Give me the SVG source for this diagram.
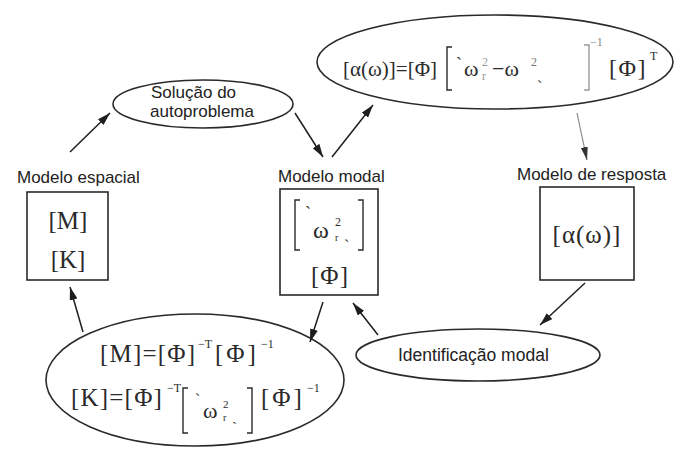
<svg xmlns="http://www.w3.org/2000/svg" width="675" height="450" viewBox="0 0 675 450">
<defs>
<marker id="ah" markerUnits="userSpaceOnUse" markerWidth="14" markerHeight="8" refX="13" refY="4" orient="auto">
<path d="M0,0 L13,4 L0,8 Z" fill="#1e1e1e"/>
</marker>
<marker id="ahg" markerUnits="userSpaceOnUse" markerWidth="14" markerHeight="8" refX="13" refY="4" orient="auto">
<path d="M0,0.5 L13,4 L0,7.5 Z" fill="#333"/>
</marker>
<style>
.sh{fill:none;stroke:#2a2a2a;stroke-width:1.6}
.bx{fill:none;stroke:#2a2a2a;stroke-width:1.6}
.lab{font-family:"Liberation Sans",Arial,sans-serif;font-size:17px;fill:#222}
.m{font-family:"Liberation Serif","Times New Roman",serif;font-size:22px;fill:#2a2a2a}
.sup{font-family:"Liberation Serif","Times New Roman",serif;font-size:12px;fill:#2a2a2a}
.br{fill:none;stroke:#2a2a2a;stroke-width:1.4}
.c{fill:none;stroke:#1e1e1e;stroke-width:1.5;marker-end:url(#ah)}
.cg{fill:none;stroke:#8a8a8a;stroke-width:1.2;marker-end:url(#ahg)}
</style>
</defs>
<rect width="675" height="450" fill="#ffffff"/>

<g id="top-formula">
<ellipse class="sh" cx="495" cy="62" rx="178" ry="47"/>
<text class="m" x="343" y="76" style="font-size:21px">[α(ω)]=[Φ]</text>
<path class="br" d="M452,47 L447,47 L447,90 L452,90"/>
<text class="m" x="456" y="70" style="font-size:18px">`</text>
<text class="m" x="464" y="76">ω</text>
<text class="sup" x="482" y="66" style="fill:#999">2</text>
<text class="sup" x="482" y="80" style="fill:#999">r</text>
<text class="m" x="492" y="76">−ω</text>
<text class="sup" x="531" y="66" style="fill:#777">2</text>
<text class="m" x="537" y="92" style="font-size:16px">`</text>
<path class="br" d="M584,45 L589,45 L589,90 L584,90" style="stroke:#999"/>
<text class="sup" x="590" y="46" style="fill:#888">−1</text>
<text class="m" x="609" y="76" style="font-size:24px" letter-spacing="1.5">[Φ]</text>
<text class="sup" x="650" y="60">T</text>
</g>

<g id="solucao">
<ellipse class="sh" cx="203" cy="104" rx="90" ry="24"/>
<text class="lab" x="151" y="98">Solução do</text>
<text class="lab" x="150" y="117">autoproblema</text>
</g>

<g id="modelo-espacial">
<text class="lab" x="17" y="183">Modelo espacial</text>
<rect class="bx" x="27" y="192" width="81" height="88"/>
<text class="m" x="68" y="229" text-anchor="middle" style="font-size:25px">[M]</text>
<text class="m" x="68" y="268" text-anchor="middle" style="font-size:25px">[K]</text>
</g>

<g id="modelo-modal">
<text class="lab" x="278" y="182">Modelo modal</text>
<rect class="bx" x="280" y="189" width="98" height="106"/>
<path class="br" d="M300,200 L295,200 L295,250 L300,250"/>
<path class="br" d="M358,200 L363,200 L363,250 L358,250"/>
<text class="m" x="305" y="219" style="font-size:18px">`</text>
<text class="m" x="313" y="238" style="font-size:24px">ω</text>
<text class="sup" x="335" y="226">2</text>
<text class="sup" x="335" y="241" style="font-size:10px">r</text>
<text class="m" x="344" y="251" style="font-size:16px">`</text>
<text class="m" x="330" y="284" text-anchor="middle" style="font-size:25px" letter-spacing="1">[Φ]</text>
</g>

<g id="modelo-resposta">
<text class="lab" x="517" y="180">Modelo de resposta</text>
<rect class="bx" x="540" y="187" width="94" height="93"/>
<text class="m" x="587" y="243" text-anchor="middle" style="font-size:25px" letter-spacing="1">[α(ω)]</text>
</g>

<g id="identificacao">
<ellipse class="sh" cx="478" cy="355" rx="122" ry="26"/>
<text class="lab" x="398" y="361" style="font-size:17.5px">Identificação modal</text>
</g>

<g id="bottom-formula">
<ellipse class="sh" cx="195" cy="380" rx="149" ry="66"/>
<text class="m" x="100" y="362" style="font-size:25px" letter-spacing="1.2">[M]=[Φ]</text>
<text class="sup" x="198" y="348">−T</text>
<text class="m" x="215" y="362" style="font-size:25px" letter-spacing="3">[Φ]</text>
<text class="sup" x="261" y="348">−1</text>
<text class="m" x="71" y="406" style="font-size:25px" letter-spacing="1.2">[K]=[Φ]</text>
<text class="sup" x="167" y="392">−T</text>
<path class="br" d="M188,388 L183,388 L183,433 L188,433"/>
<text class="m" x="195" y="405" style="font-size:16px">`</text>
<text class="m" x="203" y="418">ω</text>
<text class="sup" x="223" y="408" style="font-size:11px">2</text>
<text class="sup" x="223" y="421" style="font-size:10px">r</text>
<text class="m" x="232" y="432" style="font-size:15px">`</text>
<path class="br" d="M247,388 L252,388 L252,433 L247,433"/>
<text class="m" x="261" y="406" style="font-size:25px" letter-spacing="3">[Φ]</text>
<text class="sup" x="307" y="392">−1</text>
</g>

<g id="connectors">
<line class="c" x1="70" y1="152" x2="110" y2="113"/>
<line class="c" x1="295" y1="113" x2="323" y2="157"/>
<line class="c" x1="332" y1="157" x2="373" y2="105"/>
<line class="cg" x1="577" y1="113" x2="587" y2="160"/>
<line class="c" x1="585" y1="283" x2="540" y2="325"/>
<line class="c" x1="378" y1="335" x2="353" y2="303"/>
<line class="c" x1="323" y1="302" x2="310" y2="342"/>
<line class="c" x1="83" y1="332" x2="70" y2="287"/>
</g>
</svg>
